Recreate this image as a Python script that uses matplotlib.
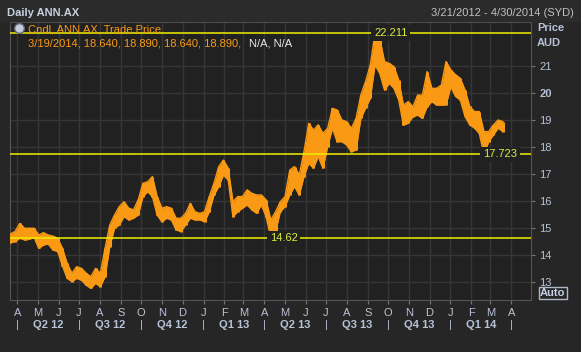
import numpy as np
import pandas as pd
import matplotlib
matplotlib.use('Agg')
import matplotlib.pyplot as plt
import matplotlib.dates as mdates
from matplotlib.transforms import blended_transform_factory

plt.rcParams['font.family'] = ['Liberation Sans', 'DejaVu Sans']

# weekly low / high of the candles (weeks from Mon 19 Mar 2012)
week_lo = [14.45, 14.50, 14.62, 14.56, 14.58, 14.66, 14.25, 14.37, 14.41, 14.19,
           14.13, 13.60, 13.14, 13.02, 13.14, 13.08, 12.89, 12.77, 12.96, 12.83,
           13.20, 14.31, 14.99, 15.11, 15.42, 15.30, 15.36, 15.48, 16.16, 16.34,
           16.16, 15.48, 15.23, 15.36, 15.30, 14.93, 14.87, 15.11, 15.36, 15.30,
           15.30, 15.23, 15.60, 16.22, 16.53, 16.96, 16.77, 15.42, 15.60, 15.73,
           15.85, 15.67, 15.54, 15.85, 15.42, 14.62, 14.87, 15.60, 15.79, 16.22,
           16.53, 16.22, 16.90, 17.39, 17.21, 17.64, 17.21, 18.01, 18.68, 18.19,
           18.19, 18.07, 17.82, 17.88, 19.05, 19.42, 19.79, 21.02, 20.71, 20.10,
           20.34, 20.16, 19.73, 18.80, 18.87, 19.11, 19.17, 19.05, 19.48, 19.67,
           19.54, 19.54, 19.55, 20.22, 19.86, 19.73, 19.12, 18.81, 18.69, 18.50,
           17.723, 18.19, 18.44, 18.69, 18.56]
week_hi = [14.78, 14.87, 15.17, 14.99, 14.99, 14.99, 14.74, 14.83, 14.74, 14.70,
           14.62, 14.25, 13.69, 13.33, 13.57, 13.51, 13.33, 13.20, 13.51, 13.33,
           14.25, 15.11, 15.48, 15.79, 15.97, 15.73, 15.67, 16.04, 16.65, 16.71,
           16.90, 16.16, 15.73, 15.79, 15.73, 15.36, 15.36, 15.54, 15.91, 15.60,
           15.54, 15.60, 16.16, 16.65, 17.27, 17.51, 17.21, 15.97, 16.16, 16.16,
           16.41, 16.28, 16.22, 16.22, 16.04, 15.30, 15.60, 15.97, 16.16, 17.14,
           17.27, 16.96, 17.82, 18.87, 18.62, 18.81, 18.50, 18.68, 19.42, 19.36,
           18.99, 18.93, 18.68, 19.05, 19.91, 20.41, 21.02, 22.211, 22.00, 21.15,
           21.08, 20.96, 20.47, 19.54, 19.67, 19.48, 19.91, 19.91, 20.78, 20.16,
           20.16, 20.28, 21.15, 20.84, 20.66, 20.53, 20.10, 19.49, 19.30, 19.30,
           18.56, 18.56, 18.81, 18.99, 18.93]
weeks = pd.date_range('2012-03-19', periods=len(week_lo), freq='7D')

# marked levels: (week index, value)
level_marks = [(77, 22.211), (55, 14.62), (100, 17.723)]

month_letters = ['A', 'M', 'J', 'J', 'A', 'S', 'O', 'N', 'D',
                 'J', 'F', 'M', 'A', 'M', 'J', 'J', 'A', 'S', 'O', 'N', 'D',
                 'J', 'F', 'M', 'A']
months = pd.date_range('2012-04-01', '2014-04-01', freq='MS')
quarter_labels = ['Q2 12', 'Q3 12', 'Q4 12', 'Q1 13', 'Q2 13', 'Q3 13', 'Q4 13', 'Q1 14']
quarters = pd.date_range('2012-04-01', '2014-04-01', freq='QS-JAN')
y_ticks = [13, 14, 15, 16, 17, 18, 19, 20, 21]

last_info = '3/19/2014, 18.640, 18.890, 18.640, 18.890,'
last_price = 18.890

ORANGE = '#fa9a14'
YELLOW = '#f0f000'
LBL_YEL = '#dcec3c'
AXTXT = '#b8c2d6'
PLOTBG = '#212121'

fig = plt.figure(figsize=(5.81, 3.52), dpi=100, facecolor='#262626')
ax = fig.add_axes([10/581, 52/352, 521/581, 278/352])
ax.set_facecolor(PLOTBG)

xnum = mdates.date2num(weeks) + 2.5
lo = np.array(week_lo)
hi = np.array(week_hi)
ax.fill_between(xnum, lo, hi, color=ORANGE, lw=0, zorder=3)
ax.vlines(xnum, lo, hi, color=ORANGE, lw=2.2, zorder=3)
ax.plot(xnum, lo, color=ORANGE, lw=1, zorder=3)
ax.plot(xnum, hi, color=ORANGE, lw=1, zorder=3)

ax.set_xlim(mdates.date2num(pd.Timestamp('2012-03-21')),
            mdates.date2num(pd.Timestamp('2014-04-30')))
ax.set_ylim(12.34, 22.61)

# grid
for m in months:
    ax.axvline(mdates.date2num(m), color='#363636', lw=1, zorder=1)
for v in y_ticks:
    ax.axhline(v, color='#363636', lw=1, zorder=1)

# support / resistance lines with labels
for idx, val in level_marks:
    ax.axhline(val, color=YELLOW, lw=1.1, zorder=4)
    ax.text(xnum[idx] - 1.5, val, '%g' % val, color=LBL_YEL, fontsize=8, ha='left',
            va='center', zorder=5, bbox=dict(facecolor=PLOTBG, edgecolor='none', pad=2))

for s in ax.spines.values():
    s.set_color('#555555')

# y axis on the right
ax.yaxis.tick_right()
ax.set_yticks(y_ticks)
ax.set_yticklabels([str(v) for v in y_ticks])
ax.tick_params(axis='y', colors='#777777', labelcolor=AXTXT, length=3, pad=3, labelsize=8)
for t in ax.get_yticklabels():
    if t.get_text() == '20':
        t.set_fontweight('bold')

# x axis months
ax.set_xticks(mdates.date2num(months))
ax.set_xticklabels(month_letters)
ax.tick_params(axis='x', colors='#777777', labelcolor=AXTXT, length=3, pad=2.5, labelsize=8)

tr = blended_transform_factory(ax.transData, ax.transAxes)
for q in quarters:
    ax.text(mdates.date2num(q), -0.09, '|', transform=tr, color=AXTXT, fontsize=8,
            ha='center', va='center')
for q, lab in zip(quarters[:-1], quarter_labels):
    q_end = q + pd.offsets.QuarterBegin(startingMonth=1)
    mid = (mdates.date2num(q) + mdates.date2num(q_end)) / 2
    ax.text(mid, -0.09, lab, transform=tr, color=AXTXT, fontsize=8, fontweight='bold',
            ha='center', va='center')

# header
fig.patches.append(plt.Rectangle((0, 1 - 21/352), 1, 21/352, transform=fig.transFigure,
                                 color='#2b2b2b', zorder=0))
fig.text(7/581, 1 - 13/352, 'Daily ANN.AX', color='#c8d0e0', fontsize=8, fontweight='bold',
         va='center', ha='left')
fig.text(574/581, 1 - 13/352, '3/21/2012 - 4/30/2014 (SYD)', color='#c0c0c0', fontsize=8,
         va='center', ha='right')
fig.text(537/581, 1 - 28/352, 'Price', color=AXTXT, fontsize=8, fontweight='bold', va='center')
fig.text(537/581, 1 - 43/352, 'AUD', color=AXTXT, fontsize=8, fontweight='bold', va='center')

# legend
ax.plot([19/581], [1 - 28/352], marker='o', ms=7, color='#c8ccd8', mec='#606878',
        transform=fig.transFigure, clip_on=False, zorder=6)
fig.text(28/581, 1 - 30/352, 'Cndl, ANN.AX, Trade Price', color=ORANGE, fontsize=8, va='center')
fig.text(28/581, 1 - 44/352, last_info, color=ORANGE, fontsize=8, va='center')
fig.text(249/581, 1 - 44/352, 'N/A, N/A', color='#e8e8e8', fontsize=8, va='center')

# last price tag and auto box
ax.text(1.003, last_price, '%.3f' % last_price, transform=tr, color='black', fontsize=8,
        fontweight='bold', ha='left', va='center', clip_on=False,
        bbox=dict(facecolor=ORANGE, edgecolor='none', pad=1.2))
fig.text(540/581, 1 - 293/352, 'Auto', color='#c8d0e8', fontsize=8, fontweight='bold', va='center',
         bbox=dict(facecolor='#262626', edgecolor='#b0b8c8', pad=1, linewidth=1))

fig.savefig('out.png', dpi=100, facecolor=fig.get_facecolor())
